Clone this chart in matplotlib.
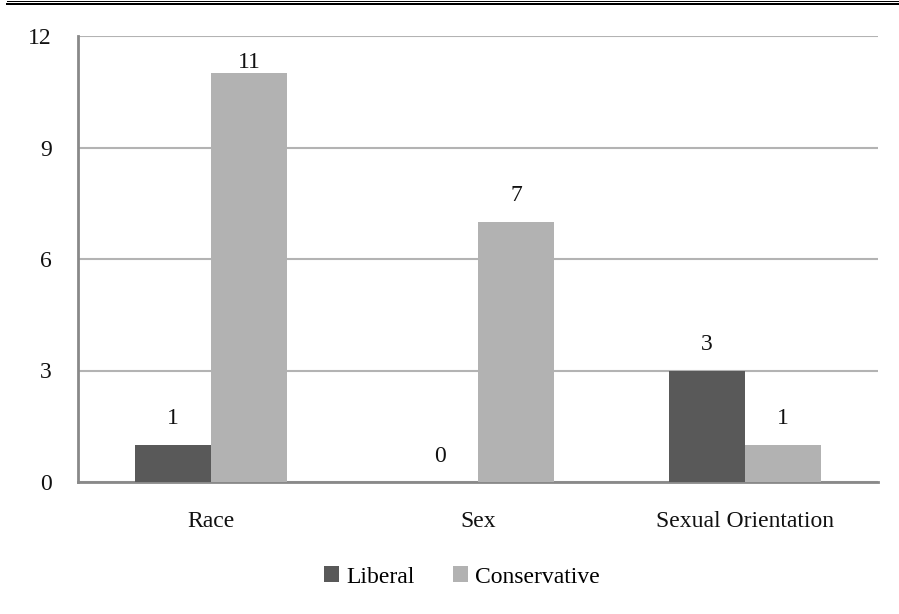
import matplotlib
matplotlib.use("Agg")
import matplotlib.pyplot as plt
from matplotlib.lines import Line2D
import numpy as np

categories = ["Race", "Sex", "Sexual Orientation"]
liberal = [1, 0, 3]
conservative = [11, 7, 1]
series_names = ["Liberal", "Conservative"]
y_ticks = [0, 3, 6, 9, 12]

plt.rcParams["font.family"] = ["Liberation Serif", "DejaVu Serif"]
FS = 17

fig = plt.figure(figsize=(8.99, 6.14), dpi=100)
ax = fig.add_axes([78 / 899, 1 - 482 / 614, 800 / 899, 446 / 614])

x = np.arange(len(categories))
width = 0.285
colors = ["#595959", "#b2b2b2"]
bars_l = ax.bar(x - width / 2, liberal, width, color=colors[0], label=series_names[0], zorder=3)
bars_c = ax.bar(x + width / 2, conservative, width, color=colors[1], label=series_names[1], zorder=3)

# value labels sit above each bar, kept inside the plot area near the top
for bars, vals in ((bars_l, liberal), (bars_c, conservative)):
    for b, v in zip(bars, vals):
        ax.text(b.get_x() + b.get_width() / 2, min(v + 0.55, 11.15), str(v),
                ha="center", va="baseline", fontsize=FS, color="#111111")

ax.set_xlim(-0.5, len(categories) - 0.5)
ax.set_ylim(0, 12)
ax.set_yticks(y_ticks)
ax.set_yticklabels([str(t) for t in y_ticks])
ax.set_xticks(x)
ax.set_xticklabels(categories)
ax.tick_params(axis="both", length=0, labelsize=FS, colors="#111111")
ax.tick_params(axis="y", pad=19)
ax.tick_params(axis="x", pad=21)

ax.yaxis.grid(True, color="#b3b3b3", linewidth=1.5, zorder=0)
ax.set_axisbelow(True)
for side in ("top", "right"):
    ax.spines[side].set_visible(False)
for side in ("left", "bottom"):
    ax.spines[side].set_color("#898989")
    ax.spines[side].set_linewidth(2)

fig.legend(handles=[bars_l, bars_c], labels=series_names, loc="center",
           bbox_to_anchor=(462 / 899, 1 - 577 / 614), ncol=2, frameon=False,
           fontsize=FS, handlelength=0.65, handleheight=0.65,
           handletextpad=0.3, columnspacing=1.6)

# double rule across the top edge
fig.add_artist(Line2D([7 / 899, 1], [1 - 0.5 / 614] * 2, color="black", linewidth=0.72))
fig.add_artist(Line2D([7 / 899, 1], [1 - 3.5 / 614] * 2, color="black", linewidth=1.44))

fig.savefig("out.png", dpi=100)
